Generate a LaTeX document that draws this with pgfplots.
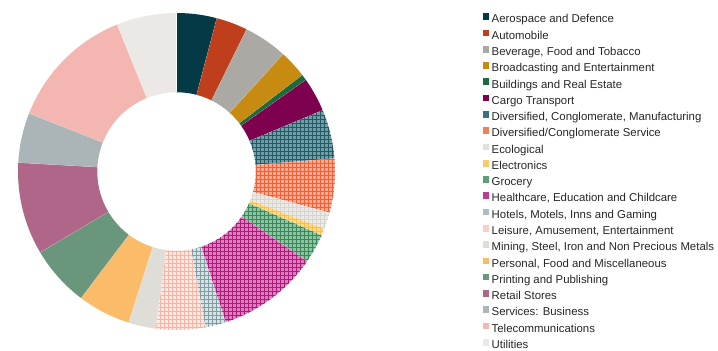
\documentclass[border=0pt]{standalone}
\usepackage{pgfplots}
\pgfplotsset{compat=1.18}
\usepackage{pgfplotstable}
\usetikzlibrary{patterns.meta}
\usepackage{fontspec}
\setmainfont{Liberation Sans}

\definecolor{cAero}{HTML}{043A46}
\definecolor{cAuto}{HTML}{BF3F1C}
\definecolor{cBev}{HTML}{ABA9A4}
\definecolor{cBroad}{HTML}{C78B12}
\definecolor{cBuild}{HTML}{1D6B3D}
\definecolor{cCargo}{HTML}{7E0150}
\definecolor{cDmF}{HTML}{769BA1}
\definecolor{cDmL}{HTML}{1E5B69}
\definecolor{cDsF}{HTML}{F9AA92}
\definecolor{cDsL}{HTML}{EF6037}
\definecolor{cEcoF}{HTML}{ECEAE6}
\definecolor{cEcoL}{HTML}{D6D4CE}
\definecolor{cEleF}{HTML}{FFDA8E}
\definecolor{cEleL}{HTML}{F9C050}
\definecolor{cGroF}{HTML}{90C3A3}
\definecolor{cGroL}{HTML}{3A8858}
\definecolor{cHeaF}{HTML}{D982B9}
\definecolor{cHeaL}{HTML}{AF187E}
\definecolor{cHotF}{HTML}{D8E1E3}
\definecolor{cHotL}{HTML}{809CA3}
\definecolor{cLeiF}{HTML}{FDE8E3}
\definecolor{cLeiL}{HTML}{F6B4A4}
\definecolor{cMin}{HTML}{DFDDD8}
\definecolor{cPers}{HTML}{FBBC6A}
\definecolor{cPrint}{HTML}{6A977B}
\definecolor{cRetail}{HTML}{B06689}
\definecolor{cServ}{HTML}{ABB4B7}
\definecolor{cTele}{HTML}{F4B6B0}
\definecolor{cUtil}{HTML}{ECE8E5}
\definecolor{textc}{HTML}{262626}

% share of each industry (percent), fill colour, grid colour, hatched flag
\pgfplotstableread[col sep=semicolon]{
val;fc;lc;hat
4.1;cAero;cAero;0
3.2;cAuto;cAuto;0
4.45;cBev;cBev;0
2.85;cBroad;cBroad;0
0.6;cBuild;cBuild;0
3.5;cCargo;cCargo;0
5.0;cDmF;cDmL;1
5.5;cDsF;cDsL;1
1.7;cEcoF;cEcoL;1
0.7;cEleF;cEleL;1
3.0;cGroF;cGroL;1
10.4;cHeaF;cHeaL;1
2.1;cHotF;cHotL;1
5.0;cLeiF;cLeiL;1
2.8;cMin;cMin;0
5.4;cPers;cPers;0
6.2;cPrint;cPrint;0
9.4;cRetail;cRetail;0
5.1;cServ;cServ;0
12.9;cTele;cTele;0
6.1;cUtil;cUtil;0
}\slices
\pgfplotstablecreatecol[create col/expr accum={\pgfmathaccuma + \thisrow{val}}{0}]{cum}\slices

\begin{document}
\begin{tikzpicture}
\begin{axis}[
  scale only axis, width=317bp, height=317bp,
  at={(18bp,21bp)}, anchor=south west,
  xmin=-1, xmax=1, ymin=-1, ymax=1,
  hide axis,
  legend cell align=left,
  legend image code/.code={\fill[#1, draw=none] (0bp,-0.2bp) rectangle (6.7bp,6.5bp);},
  legend style={at={(axis description cs:1.4659,0.9990)}, anchor=north west,
    draw=none, fill=none, inner sep=0pt, outer sep=0pt,
    font=\fontsize{11.4bp}{13bp}\selectfont, text=textc,
    row sep=4.68bp, column sep=2.3bp,
    nodes={inner sep=0pt, text height=8.2bp, text depth=2bp}},
]
\pgfplotsextra{
  \begin{scope}[shift={(axis cs:0,0)}, x={(axis direction cs:1,0)}, y={(axis direction cs:0,1)}]
    \pgfplotstablegetrowsof{\slices}
    \pgfmathtruncatemacro\N{\pgfplotsretval-1}
    \foreach \i in {0,...,\N}{
      \pgfplotstablegetelem{\i}{val}\of\slices \let\v\pgfplotsretval
      \pgfplotstablegetelem{\i}{cum}\of\slices \let\c\pgfplotsretval
      \pgfplotstablegetelem{\i}{fc}\of\slices \let\fc\pgfplotsretval
      \pgfplotstablegetelem{\i}{lc}\of\slices \let\lc\pgfplotsretval
      \pgfplotstablegetelem{\i}{hat}\of\slices \let\h\pgfplotsretval
      \pgfmathsetmacro\a{90-3.6*(\c-\v)}
      \pgfmathsetmacro\b{90-3.6*\c}
      \def\wedgepath{(\a:1) arc[start angle=\a,end angle=\b,radius=1] -- (\b:0.5) arc[start angle=\b,end angle=\a,radius=0.5] -- cycle}
      \fill[\fc] \wedgepath;
      \ifnum\h=1
        \fill[pattern={Lines[angle=0,distance=4bp,line width=0.65bp]}, pattern color=\lc] \wedgepath;
        \fill[pattern={Lines[angle=90,distance=4bp,line width=0.65bp]}, pattern color=\lc] \wedgepath;
      \fi
      \draw[white, line width=0.25bp] (\b:0.5) -- (\b:1);
    }
  \end{scope}
}
\addlegendimage{fill=cAero}\addlegendentry{Aerospace and Defence}
\addlegendimage{fill=cAuto}\addlegendentry{Automobile}
\addlegendimage{fill=cBev}\addlegendentry{Beverage, Food and Tobacco}
\addlegendimage{fill=cBroad}\addlegendentry{Broadcasting and Entertainment}
\addlegendimage{fill=cBuild}\addlegendentry{Buildings and Real Estate}
\addlegendimage{fill=cCargo}\addlegendentry{Cargo Transport}
\addlegendimage{fill=cDmL!65!cDmF}\addlegendentry{Diversified, Conglomerate, Manufacturing}
\addlegendimage{fill=cDsL!60!cDsF}\addlegendentry{Diversified/Conglomerate Service}
\addlegendimage{fill=cEcoL!50!cEcoF}\addlegendentry{Ecological}
\addlegendimage{fill=cEleL!60!cEleF}\addlegendentry{Electronics}
\addlegendimage{fill=cGroL!60!cGroF}\addlegendentry{Grocery}
\addlegendimage{fill=cHeaL!65!cHeaF}\addlegendentry{Healthcare, Education and Childcare}
\addlegendimage{fill=cHotL!50!cHotF}\addlegendentry{Hotels, Motels, Inns and Gaming}
\addlegendimage{fill=cLeiL!50!cLeiF}\addlegendentry{Leisure, Amusement, Entertainment}
\addlegendimage{fill=cMin}\addlegendentry{Mining, Steel, Iron and Non Precious Metals}
\addlegendimage{fill=cPers}\addlegendentry{Personal, Food and Miscellaneous}
\addlegendimage{fill=cPrint}\addlegendentry{Printing and Publishing}
\addlegendimage{fill=cRetail}\addlegendentry{Retail Stores}
\addlegendimage{fill=cServ}\addlegendentry{Services: Business}
\addlegendimage{fill=cTele}\addlegendentry{Telecommunications}
\addlegendimage{fill=cUtil}\addlegendentry{Utilities}
\end{axis}
\pgfresetboundingbox
\useasboundingbox (0,0) rectangle (718bp,351bp);
\end{tikzpicture}
\end{document}
